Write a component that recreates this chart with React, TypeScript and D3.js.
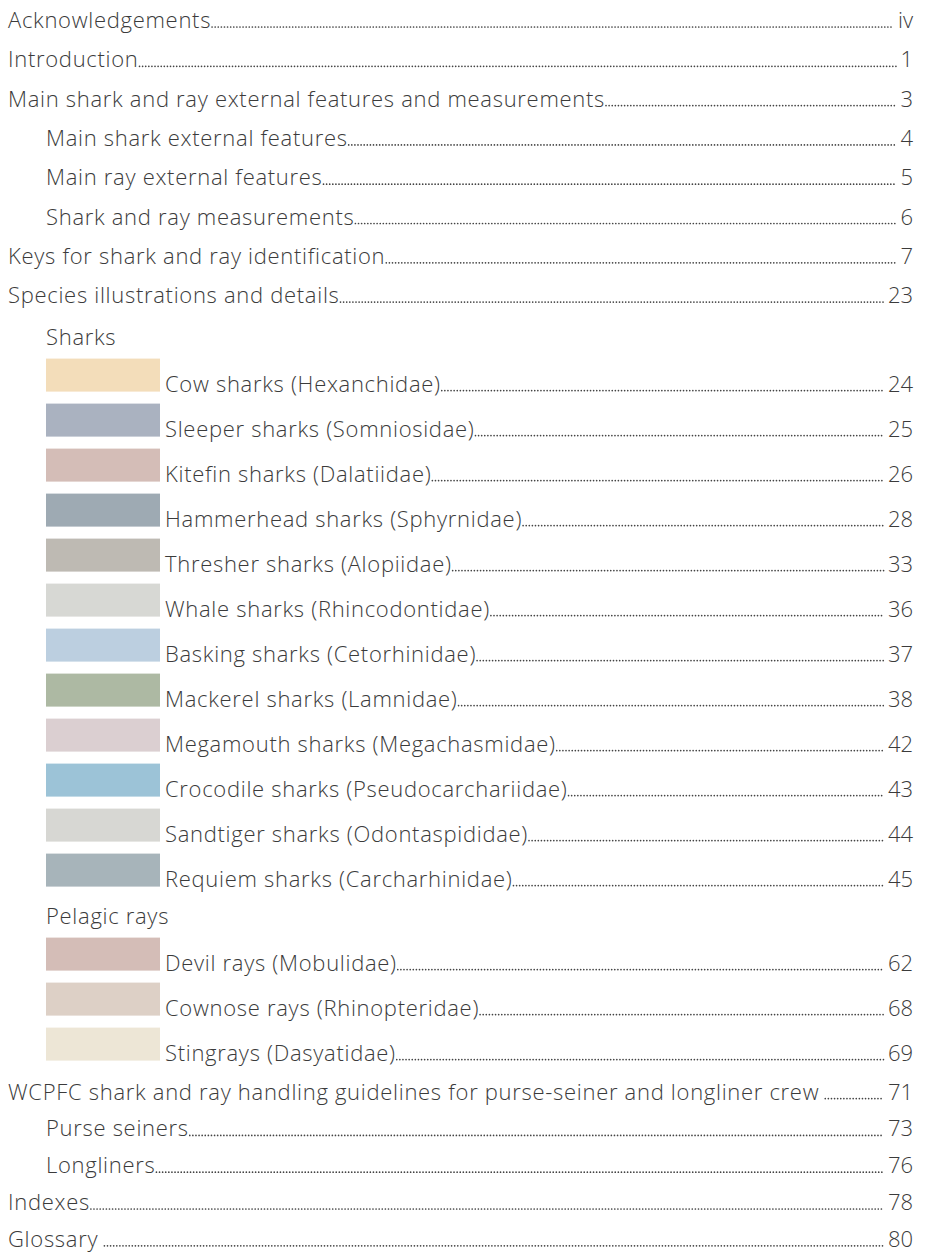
import React, { useRef, useEffect } from 'react';
import * as d3 from 'd3';

// table of contents entries
const labels = [
  'Acknowledgements',
  'Introduction',
  'Main shark and ray external features and measurements',
  'Main shark external features',
  'Main ray external features',
  'Shark and ray measurements',
  'Keys for shark and ray identification',
  'Species illustrations and details',
  'Sharks',
  'Cow sharks (Hexanchidae)',
  'Sleeper sharks (Somniosidae)',
  'Kitefin sharks (Dalatiidae)',
  'Hammerhead sharks (Sphyrnidae)',
  'Thresher sharks (Alopiidae)',
  'Whale sharks (Rhincodontidae)',
  'Basking sharks (Cetorhinidae)',
  'Mackerel sharks (Lamnidae)',
  'Megamouth sharks (Megachasmidae)',
  'Crocodile sharks (Pseudocarchariidae)',
  'Sandtiger sharks (Odontaspididae)',
  'Requiem sharks (Carcharhinidae)',
  'Pelagic rays',
  'Devil rays (Mobulidae)',
  'Cownose rays (Rhinopteridae)',
  'Stingrays (Dasyatidae)',
  'WCPFC shark and ray handling guidelines for purse-seiner and longliner crew',
  'Purse seiners',
  'Longliners',
  'Indexes',
  'Glossary',
];

const pages = [
  'iv', '1', '3', '4', '5', '6', '7', '23', '',
  '24', '25', '26', '28', '33', '36', '37', '38', '42', '43', '44', '45', '',
  '62', '68', '69', '71', '73', '76', '78', '80',
];

// 0 = chapter, 1 = section, 2 = group heading, 3 = family with colour swatch
const kinds = [
  0, 0, 0, 1, 1, 1, 0, 0, 2,
  3, 3, 3, 3, 3, 3, 3, 3, 3, 3, 3, 3, 2,
  3, 3, 3, 0, 1, 1, 0, 0,
];

const swatchColors = [
  '#f3ddba', '#aab2c0', '#d4bdb7', '#9eaab3', '#bebab3', '#d7d8d4',
  '#bccfe0', '#adb9a3', '#dbcfd1', '#9cc3d7', '#d7d7d3', '#a7b4ba',
  '#d4bdb7', '#ddd0c6', '#ede6d6',
];

const W = 925;
const H = 1260;

const TableOfContents = () => {
  const ref = useRef(null);

  useEffect(() => {
    const svg = d3.select(ref.current);
    svg.selectAll('*').remove();

    const font = "'Open Sans', 'Noto Sans', sans-serif";
    const textColor = '#3b3b3b';
    const fontSize = 22;
    const tracking = 0.7;
    const indent = { 0: 8, 1: 46, 2: 46, 3: 165 };
    const swatchX = 46;
    const swatchW = 114;
    const swatchH = 33;
    const rightEdge = 913;

    // baseline of each row, step depends on the kind of neighbouring rows
    const baselines: number[] = [];
    let y = 28;
    let afterSwatches = false;
    kinds.forEach((k, i) => {
      if (i > 0) {
        const prev = kinds[i - 1];
        if (k === 3 && prev === 3) y += 45;
        else if (k === 3) y += 46.5;
        else if (prev === 3 && k === 2) y += 37.5;
        else if (prev === 3) y += 39;
        else if (k === 2) y += 42;
        else y += afterSwatches ? 36.8 : 39.3;
      }
      if (k === 3) afterSwatches = true;
      baselines.push(y);
    });

    let swatchIdx = 0;
    const rows = labels.map((label, i) => {
      const row = {
        label,
        page: pages[i],
        kind: kinds[i],
        y: baselines[i],
        color: kinds[i] === 3 ? swatchColors[swatchIdx] : null,
      };
      if (kinds[i] === 3) swatchIdx += 1;
      return row;
    });

    const g = svg.append('g');

    // swatches
    g.selectAll('rect.swatch')
      .data(rows.filter((d) => d.color))
      .enter()
      .append('rect')
      .attr('class', 'swatch')
      .attr('x', swatchX)
      .attr('y', (d) => d.y - swatchH)
      .attr('width', swatchW)
      .attr('height', swatchH)
      .attr('fill', (d) => d.color);

    const entries = g
      .selectAll('g.entry')
      .data(rows)
      .enter()
      .append('g')
      .attr('class', 'entry');

    const labelText = entries
      .append('text')
      .attr('x', (d) => indent[d.kind])
      .attr('y', (d) => d.y)
      .attr('font-family', font)
      .attr('font-weight', 300)
      .attr('font-size', fontSize)
      .attr('letter-spacing', tracking)
      .attr('fill', textColor)
      .text((d) => d.label);

    const pageText = entries
      .append('text')
      .attr('x', rightEdge)
      .attr('y', (d) => d.y)
      .attr('text-anchor', 'end')
      .attr('font-family', font)
      .attr('font-weight', 300)
      .attr('font-size', fontSize)
      .attr('fill', textColor)
      .text((d) => d.page);

    // dotted leaders between label and page number
    entries.each(function (d, i) {
      if (!d.page) return;
      const lt = labelText.nodes()[i] as SVGTextElement;
      const pt = pageText.nodes()[i] as SVGTextElement;
      const gap = d.label === 'Glossary' || d.label.endsWith('crew') ? 6 : 1;
      const x0 = lt.getBBox().x + lt.getBBox().width + gap;
      const x1 = pt.getBBox().x - 4;
      d3.select(this)
        .append('line')
        .attr('x1', x0)
        .attr('x2', x1)
        .attr('y1', d.y - 1)
        .attr('y2', d.y - 1)
        .attr('stroke', '#444')
        .attr('stroke-width', 1.7)
        .attr('stroke-linecap', 'round')
        .attr('stroke-dasharray', '0,3.1');
    });
  }, []);

  return (
    <svg
      ref={ref}
      width={W}
      height={H}
      style={{ position: 'absolute', left: 0, top: 0, background: '#fff' }}
    />
  );
};

export default function App() {
  return <TableOfContents />;
}
